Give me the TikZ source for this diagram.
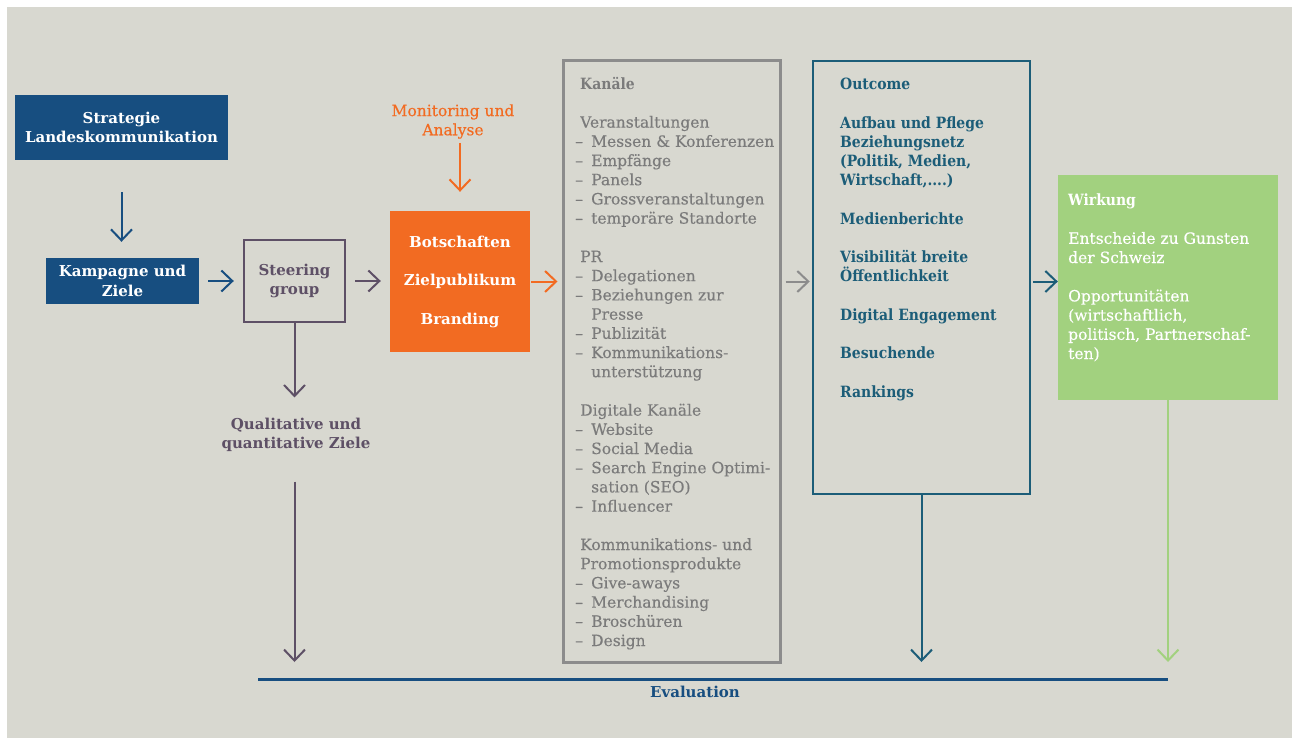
\documentclass[tikz,border=0pt]{standalone}
\usepackage{fontspec}
\setmainfont{DejaVu Serif}
\newfontfamily\medserif[FakeBold=0.35]{DejaVu Serif}
\newfontfamily\condserif{DejaVu Serif Condensed}
\usetikzlibrary{arrows.meta}
\definecolor{bg}{HTML}{D8D8D0}
\definecolor{navy}{HTML}{174E80}
\definecolor{plum}{HTML}{5E5066}
\definecolor{orng}{HTML}{F26B22}
\definecolor{gbox}{HTML}{8C8C8C}
\definecolor{gtxt}{HTML}{7B7B7B}
\definecolor{teal}{HTML}{1C5D78}
\definecolor{grn}{HTML}{A2D17F}
\newcommand\kitem{\makebox[16pt][l]{–}}
\newcommand\kcont{\hspace*{16pt}}
\newcommand\khead{\hspace*{5pt}}
\tikzset{
  base/.style={font=\fontsize{15}{19.2}\selectfont, inner sep=0pt},
  fillbox/.style={base, font=\fontsize{15}{19.2}\selectfont\bfseries, text=white, align=center},
  medtext/.style={font=\fontsize{15.5}{19.2}\selectfont\medserif},
  arr/.style={-{Straight Barb[length=11pt,width=21pt]}, line width=2pt},
  txt/.style={base, align=left, anchor=base west},
}
\begin{document}
\begin{tikzpicture}[x=1pt,y=-1pt]
\useasboundingbox (0,0) rectangle (1293,738);
\fill[bg] (7,7) rectangle (1292,738);

% boxes
\node[fillbox, fill=navy, minimum width=213pt, minimum height=65pt] (strat) at (121.5,127.5) {Strategie\\Landeskommunikation};
\node[fillbox, fill=navy, minimum width=153pt, minimum height=46pt] (kamp) at (122.5,281) {Kampagne und\\Ziele};
\node[base, font=\fontsize{15}{19.2}\selectfont\bfseries, text=plum, align=center, draw=plum, line width=2.4pt, minimum width=101pt, minimum height=82pt] (steer) at (294.5,281) {Steering\\group};
\node[base, font=\fontsize{15}{19.2}\selectfont\bfseries, text=plum, align=center] (qual) at (296,434.5) {Qualitative und\\quantitative Ziele};
\node[base, medtext, text=orng, align=center] (monit) at (453,121.5) {Monitoring und\\Analyse};
\node[fillbox, font=\fontsize{15}{38.5}\selectfont\bfseries, fill=orng, minimum width=140pt, minimum height=141pt] (orange) at (460,281.5) {Botschaften\\Zielpublikum\\Branding};
\node[draw=gbox, line width=3pt, minimum width=217pt, minimum height=601pt, inner sep=0pt] (kanal) at (671.5,361.5) {};
\node[draw=teal, line width=2.5pt, minimum width=217pt, minimum height=433pt, inner sep=0pt] (outc) at (921.5,277.5) {};
\node[fill=grn, minimum width=220pt, minimum height=225pt, inner sep=0pt] (wirk) at (1168,287.5) {};

% box texts (anchored at the baseline of their last line)
\node[txt, medtext, text=gtxt] (kanaltxt) at (575,646) {\khead{\condserif\bfseries Kanäle}\\[19.2pt]
\khead Veranstaltungen\\
\kitem Messen \& Konferenzen\\
\kitem Empfänge\\
\kitem Panels\\
\kitem Grossveranstaltungen\\
\kitem temporäre Standorte\\[19.2pt]
\khead PR\\
\kitem Delegationen\\
\kitem Beziehungen zur\\
\kcont Presse\\
\kitem Publizität\\
\kitem Kommunikations-\\
\kcont unterstützung\\[19.2pt]
\khead Digitale Kanäle\\
\kitem Website\\
\kitem Social Media\\
\kitem Search Engine Optimi-\\
\kcont sation (SEO)\\
\kitem Influencer\\[19.2pt]
\khead Kommunikations- und\\
\khead Promotionsprodukte\\
\kitem Give-aways\\
\kitem Merchandising\\
\kitem Broschüren\\
\kitem Design};

\node[txt, text=teal, font=\fontsize{15.5}{19.2}\selectfont\condserif\bfseries] (outctxt) at (840,397) {Outcome\\[19.2pt]
Aufbau und Pflege\\
Beziehungsnetz\\
(Politik, Medien,\\
Wirtschaft,....)\\[19.2pt]
Medienberichte\\[19.2pt]
Visibilität breite\\
Öffentlichkeit\\[19.2pt]
Digital Engagement\\[19.2pt]
Besuchende\\[19.2pt]
Rankings};

\node[txt, medtext, text=white] (wirktxt) at (1068,359) {{\condserif\bfseries Wirkung}\\[19.2pt]
Entscheide zu Gunsten\\
der Schweiz\\[19.2pt]
Opportunitäten\\
(wirtschaftlich,\\
politisch, Partnerschaf-\\
ten)};

% evaluation
\coordinate (evL) at (258,679);
\coordinate (evR) at (1168,679);
\draw[navy, line width=3pt] (evL) -- (evR);
\node[base, text=navy, font=\fontsize{15}{19.2}\selectfont\bfseries] (evaltxt) at (695,692) {Evaluation};

% arrows
\draw[arr, navy, shorten <=32pt, shorten >=16pt] (strat.south) -- (strat.south |- kamp.north);
\draw[arr, navy, shorten <=9pt, shorten >=9pt] (kamp.east) -- (kamp.east -| steer.west);
\draw[arr, plum, shorten <=9pt, shorten >=9pt] (steer.east) -- (steer.east -| orange.west);
\draw[arr, plum, shorten >=20pt] (steer.south) -- (steer.south |- qual.north);
\draw[arr, plum, shorten <=30pt, shorten >=17pt] (qual.south -| steer.south) -- (steer.south |- evL);
\draw[arr, orng, shorten <=4pt, shorten >=19pt] (monit.south -| orange.north) -- (orange.north);
\draw[arr, orng, shorten <=1pt, shorten >=4pt] (orange.east) -- (orange.east -| kanal.west);
\draw[arr, gbox, shorten <=4pt, shorten >=2pt] (kanal.east |- orange.east) -- (orange.east -| outc.west);
\draw[arr, teal, shorten <=2pt, shorten >=0pt] (outc.east |- orange.east) -- (orange.east -| wirk.west);
\draw[arr, teal, shorten >=17pt] (outc.south) -- (outc.south |- evL);
\draw[arr, grn, shorten >=17pt] (wirk.south) -- (wirk.south |- evR);
\end{tikzpicture}
\end{document}
